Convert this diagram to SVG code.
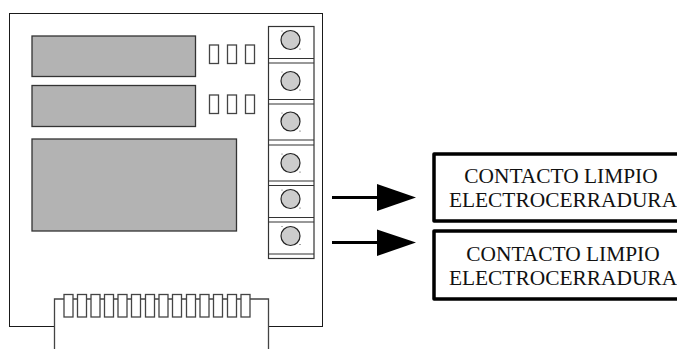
<svg xmlns="http://www.w3.org/2000/svg" width="677" height="349" viewBox="0 0 677 349">
<style>
.o{fill:none;stroke:#1a1a1a;stroke-width:1}
.s{fill:none;stroke:#444;stroke-width:1.300}
.w{stroke:#333;stroke-width:1.100}
.d{fill:#b3b3b3;stroke:#333;stroke-width:1.300}
.l{fill:#fff;stroke:#444;stroke-width:1.300}
.c{fill:#ccc;stroke:#222;stroke-width:1.200}
.p{fill:#333}
.b{fill:#fff;stroke:#000;stroke-width:3.500;stroke-linejoin:round}
.a{stroke:#000;stroke-width:3;fill:none}
.h{fill:#000}
text{font-family:"Liberation Serif","Times New Roman",serif;font-size:21.400px;fill:#111;text-anchor:middle}
</style>
<rect width="677" height="349" fill="#fff"/>
<g id="board"><rect class="o" x="9.500" y="13.500" width="313" height="313"/></g>
<g id="display-1"><rect class="d" x="32" y="36" width="163.500" height="40.500"/></g>
<g id="display-2"><rect class="d" x="32" y="85.500" width="163.500" height="41"/></g>
<g id="display-3"><rect class="d" x="32" y="139" width="204.500" height="92"/></g>
<g id="leds-1"><rect class="l" x="209.500" y="45" width="9" height="18.500"/><rect class="l" x="227.500" y="45" width="9" height="18.500"/><rect class="l" x="245.500" y="45" width="9" height="18.500"/></g>
<g id="leds-2"><rect class="l" x="209.500" y="95" width="9" height="18.500"/><rect class="l" x="227.500" y="95" width="9" height="18.500"/><rect class="l" x="245.500" y="95" width="9" height="18.500"/></g>
<g id="terminal-block"><rect x="268.500" y="26.500" width="45.500" height="232" fill="#fff" stroke="#333" stroke-width="1.200"/>
<path class="w" d="M268.500 58.500H314M268.500 63H314M268.500 99.500H314M268.500 104H314M268.500 140H314M268.500 145H314M268.500 181H314M268.500 185.500H314M268.500 217.500H314M268.500 222H314M268.500 254H314" fill="none"/></g>
<g id="terminal-1"><circle class="c" cx="290.500" cy="40" r="9.500"/><circle class="p" cx="282" cy="31" r=".5"/><circle class="p" cx="300" cy="49" r=".6"/></g>
<g id="terminal-2"><circle class="c" cx="290.500" cy="81" r="9.500"/><circle class="p" cx="282" cy="72" r=".5"/><circle class="p" cx="300" cy="90" r=".6"/></g>
<g id="terminal-3"><circle class="c" cx="290.500" cy="121.500" r="9.500"/><circle class="p" cx="282" cy="113" r=".5"/><circle class="p" cx="300" cy="131" r=".6"/></g>
<g id="terminal-4"><circle class="c" cx="290.500" cy="163" r="9.500"/><circle class="p" cx="282" cy="154" r=".5"/><circle class="p" cx="300" cy="172" r=".6"/></g>
<g id="terminal-5"><circle class="c" cx="290.500" cy="199" r="9.500"/><circle class="p" cx="282" cy="190" r=".5"/><circle class="p" cx="300" cy="208" r=".6"/></g>
<g id="terminal-6"><circle class="c" cx="290.500" cy="236" r="9.500"/><circle class="p" cx="282" cy="226.500" r=".5"/><circle class="p" cx="300" cy="244.500" r=".6"/></g>
<g id="edge-connector"><path fill="#fff" stroke="none" d="M54 299H268V349H54Z"/><path class="s" d="M54.500 349V299H268.500V349"/>
<rect class="l" x="64" y="294.500" width="9" height="22.500"/><rect class="l" x="77.500" y="294.500" width="9" height="22.500"/><rect class="l" x="91" y="294.500" width="9" height="22.500"/><rect class="l" x="104.500" y="294.500" width="9" height="22.500"/><rect class="l" x="118" y="294.500" width="9" height="22.500"/><rect class="l" x="131.500" y="294.500" width="9" height="22.500"/><rect class="l" x="145.500" y="294.500" width="9" height="22.500"/><rect class="l" x="159" y="294.500" width="9" height="22.500"/><rect class="l" x="172.500" y="294.500" width="9" height="22.500"/><rect class="l" x="186.500" y="294.500" width="9" height="22.500"/><rect class="l" x="200" y="294.500" width="9" height="22.500"/><rect class="l" x="213.500" y="294.500" width="9" height="22.500"/><rect class="l" x="227.500" y="294.500" width="9" height="22.500"/><rect class="l" x="241" y="294.500" width="9" height="22.500"/></g>
<g id="box-1"><rect class="b" x="434" y="154" width="260" height="67"/><text x="561" y="183">CONTACTO LIMPIO</text><text x="563" y="207">ELECTROCERRADURA</text></g>
<g id="box-2"><rect class="b" x="434" y="231" width="260" height="68"/><text x="563" y="261">CONTACTO LIMPIO</text><text x="563" y="285">ELECTROCERRADURA</text></g>
<g id="connectors"><line class="a" x1="332" y1="197.500" x2="378" y2="197.500"/><polygon class="h" points="377,184 416,197.500 377,211"/><line class="a" x1="332" y1="242.500" x2="378" y2="242.500"/><polygon class="h" points="377,229.500 416,242.500 377,256"/></g>
</svg>
